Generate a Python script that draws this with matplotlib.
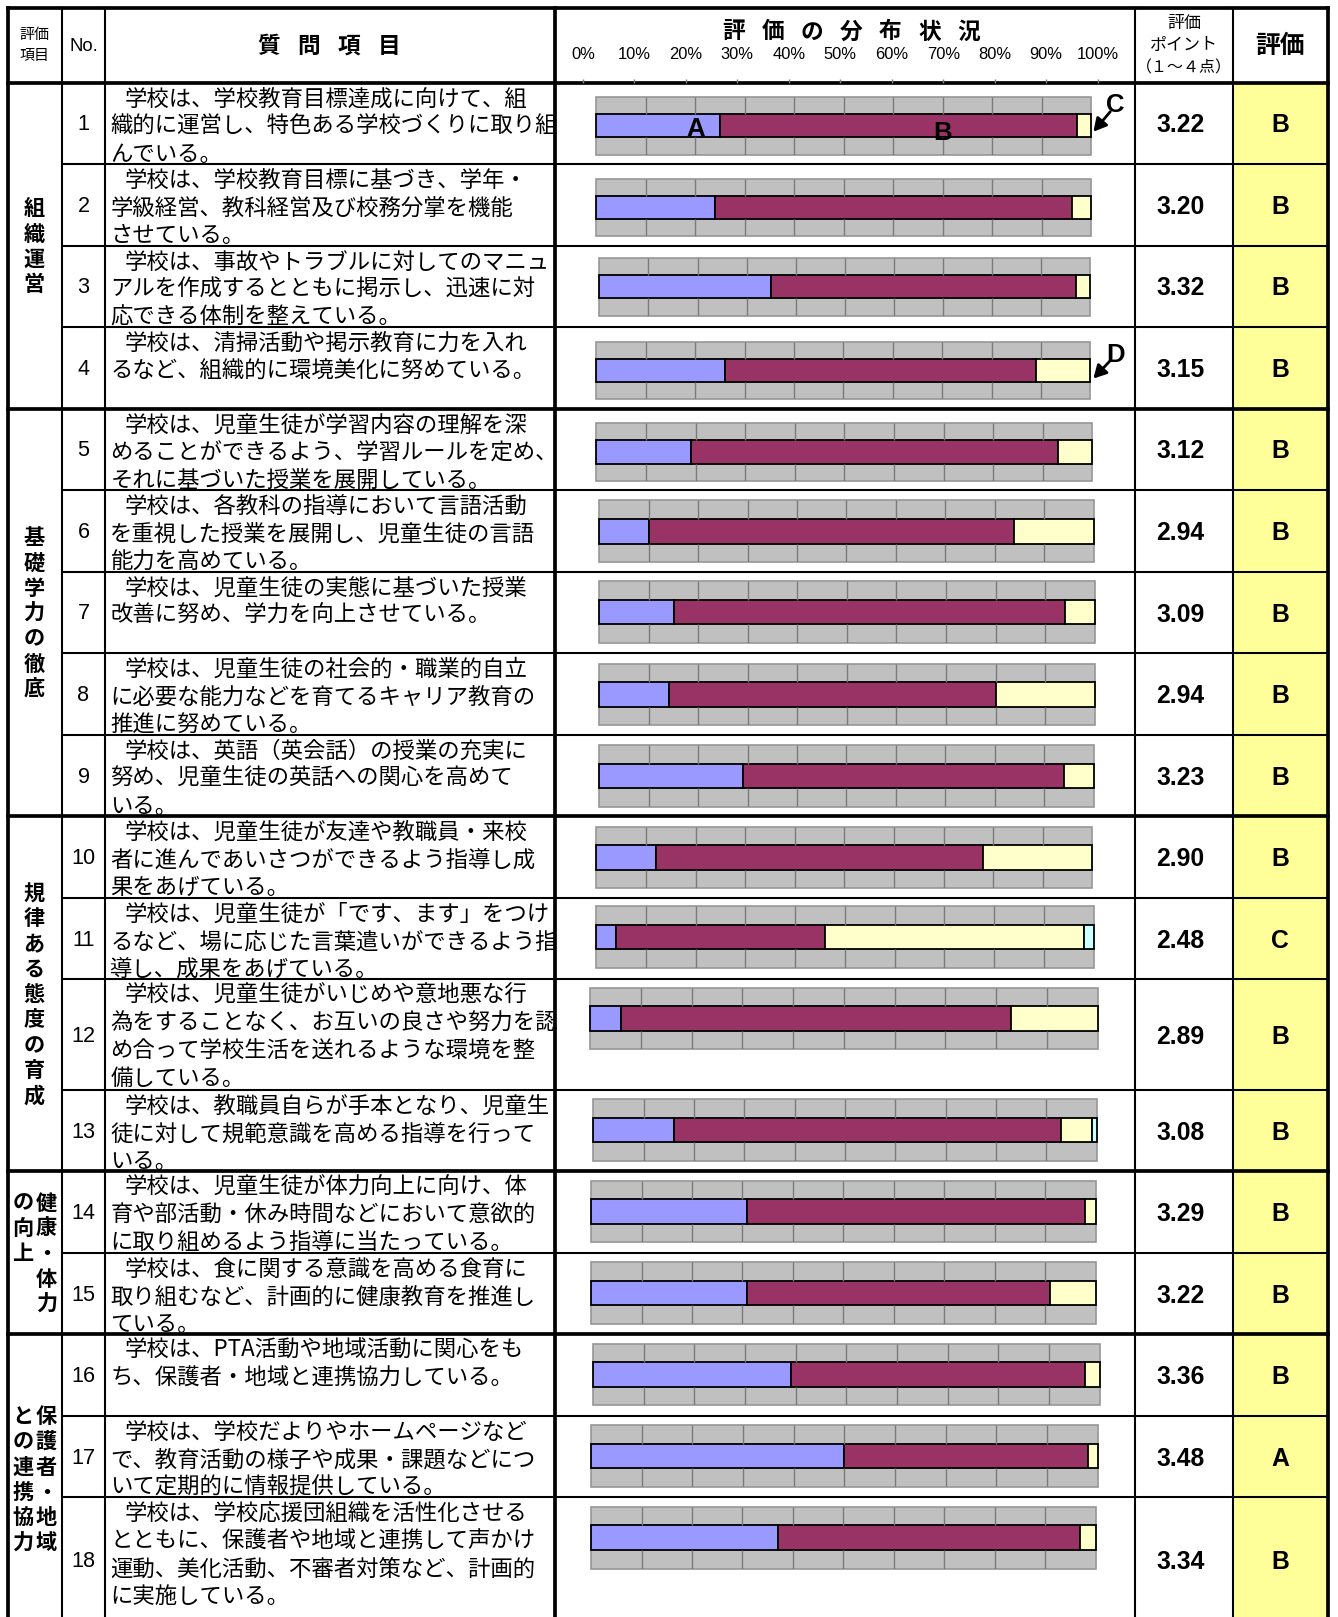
import numpy as np
import matplotlib
matplotlib.use("Agg")
import matplotlib.pyplot as plt
from matplotlib.patches import Rectangle

plt.rcParams["font.family"] = ["Noto Sans CJK JP", "DejaVu Sans"]

# ── data ─────────────────────────────────────────────────────────────────────
categories = [["組織運営"], ["基礎学力の徹底"], ["規律ある態度の育成"],
              ["健康・体力", "の向上"], ["保護者・地域", "との連携協力"]]
group_sizes = [4, 5, 4, 2, 3]

questions = [
    ["学校は、学校教育目標達成に向けて、組", "織的に運営し、特色ある学校づくりに取り組", "んでいる。"],
    ["学校は、学校教育目標に基づき、学年・", "学級経営、教科経営及び校務分掌を機能", "させている。"],
    ["学校は、事故やトラブルに対してのマニュ", "アルを作成するとともに掲示し、迅速に対", "応できる体制を整えている。"],
    ["学校は、清掃活動や掲示教育に力を入れ", "るなど、組織的に環境美化に努めている。"],
    ["学校は、児童生徒が学習内容の理解を深", "めることができるよう、学習ルールを定め、", "それに基づいた授業を展開している。"],
    ["学校は、各教科の指導において言語活動", "を重視した授業を展開し、児童生徒の言語", "能力を高めている。"],
    ["学校は、児童生徒の実態に基づいた授業", "改善に努め、学力を向上させている。"],
    ["学校は、児童生徒の社会的・職業的自立", "に必要な能力などを育てるキャリア教育の", "推進に努めている。"],
    ["学校は、英語（英会話）の授業の充実に", "努め、児童生徒の英話への関心を高めて", "いる。"],
    ["学校は、児童生徒が友達や教職員・来校", "者に進んであいさつができるよう指導し成", "果をあげている。"],
    ["学校は、児童生徒が「です、ます」をつけ", "るなど、場に応じた言葉遣いができるよう指", "導し、成果をあげている。"],
    ["学校は、児童生徒がいじめや意地悪な行", "為をすることなく、お互いの良さや努力を認", "め合って学校生活を送れるような環境を整", "備している。"],
    ["学校は、教職員自らが手本となり、児童生", "徒に対して規範意識を高める指導を行って", "いる。"],
    ["学校は、児童生徒が体力向上に向け、体", "育や部活動・休み時間などにおいて意欲的", "に取り組めるよう指導に当たっている。"],
    ["学校は、食に関する意識を高める食育に", "取り組むなど、計画的に健康教育を推進し", "ている。"],
    ["学校は、PTA活動や地域活動に関心をも", "ち、保護者・地域と連携協力している。"],
    ["学校は、学校だよりやホームページなど", "で、教育活動の様子や成果・課題などにつ", "いて定期的に情報提供している。"],
    ["学校は、学校応援団組織を活性化させる", "とともに、保護者や地域と連携して声かけ", "運動、美化活動、不審者対策など、計画的", "に実施している。"],
]

pct_a = [25, 24, 35, 26, 19, 10, 15, 14, 29, 12, 4, 6, 16, 31, 31, 39, 50, 37]
pct_b = [72, 72, 62, 63, 74, 74, 79, 66, 65, 66, 42, 77, 77, 67, 60, 58, 48, 60]
pct_c = [3, 4, 3, 11, 7, 16, 6, 20, 6, 22, 52, 17, 6, 2, 9, 3, 2, 3]
pct_d = [0, 0, 0, 0, 0, 0, 0, 0, 0, 0, 2, 0, 1, 0, 0, 0, 0, 0]
scores = [3.22, 3.20, 3.32, 3.15, 3.12, 2.94, 3.09, 2.94, 3.23,
          2.90, 2.48, 2.89, 3.08, 3.29, 3.22, 3.36, 3.48, 3.34]
grades = ["B", "B", "B", "B", "B", "B", "B", "B", "B",
          "B", "C", "B", "B", "B", "B", "B", "A", "B"]
pct_ticks = list(range(0, 101, 10))

SEG_COLORS = ["#9999ff", "#993366", "#ffffcc", "#ccffff"]

# ── layout (reference grid units) ────────────────────────────────────────────
W, H = 1297, 1567
K = 1338 / W


def fs(px):
    return px * K * 0.72


def fig_box(x0, y0, x1, y1):
    return [x0 / W, 1 - y1 / H, (x1 - x0) / W, (y1 - y0) / H]


X_L, X_CAT, X_NO, X_Q, X_BAR, X_PT, X_R = 8, 60, 102, 538, 1100, 1195, 1287
HEAD_T, HEAD_B = 8, 80
row_h = [79] * 18
row_h[11] = 107
row_h[17] = 122
row_top = HEAD_B + np.concatenate([[0], np.cumsum(row_h)[:-1]])
row_mid = row_top + np.array(row_h) / 2

bar_l = [578, 578, 581, 578, 578, 581, 581, 581, 581, 578, 578, 572, 575, 573, 573, 575, 573, 573]
bar_r = [1058, 1058, 1057, 1057, 1059, 1060, 1061, 1061, 1060, 1059, 1060, 1064, 1063, 1062, 1062, 1066, 1064, 1062]
bar_off = [14, 14, 12, 14, 14, 10, 9, 10, 10, 10, 8, 8, 9, 9, 9, 9, 9, 9]
bar_h = [56] * 5 + [60] * 13

fig = plt.figure(figsize=(13.38, 16.17), dpi=100)
ax = fig.add_axes([0, 0, 1, 1])
ax.set_xlim(0, W)
ax.set_ylim(H, 0)
ax.axis("off")

# yellow grade column
ax.add_patch(Rectangle((X_PT, HEAD_B), X_R - X_PT, H - HEAD_B, fc="#ffff99", ec="none", zorder=0))

# ── grid lines ───────────────────────────────────────────────────────────────
THIN, THICK = fs(2.0), fs(3.6)
kw = dict(color="black", solid_capstyle="projecting", zorder=5)
ax.plot([X_L, X_R], [HEAD_T, HEAD_T], lw=THICK, **kw)
ax.plot([X_L, X_R], [HEAD_B, HEAD_B], lw=THICK, **kw)
ends = np.cumsum(group_sizes)
for i in range(1, 18):
    y = row_top[i]
    if i in ends:
        ax.plot([X_L, X_R], [y, y], lw=THICK, **kw)
    else:
        ax.plot([X_CAT, X_R], [y, y], lw=THIN, **kw)
for x, lw in ((X_L, THICK), (X_CAT, THIN), (X_NO, THIN), (X_Q, THICK),
              (X_BAR, THIN), (X_PT, THIN), (X_R, THICK)):
    ax.plot([x, x], [HEAD_T, H + 5], lw=lw, **kw)

# ── header ───────────────────────────────────────────────────────────────────
ax.text(33, 34, "評価", ha="center", va="center", fontsize=fs(14.5))
ax.text(33, 54, "項目", ha="center", va="center", fontsize=fs(14.5))
ax.text(81, 45, "No.", ha="center", va="center", fontsize=fs(18),
        family=["Liberation Sans Narrow", "Liberation Sans"])
for k, ch in enumerate("質問項目"):
    ax.text(260 + 39 * k, 45, ch, ha="center", va="center", fontsize=fs(22), fontweight="bold")

# percentage scale of the distribution column
hx = fig.add_axes(fig_box(565, 40, 1064, 80))
hx.set_xlim(0, 100)
hx.set_ylim(0, 1)
hx.axis("off")
for p in pct_ticks:
    hx.text(p, 0.68, f"{p}%", ha="center", va="center", fontsize=fs(16),
            family=["Liberation Sans Narrow", "Liberation Sans"])
hx.vlines(pct_ticks, 0, 0.08, color="#808080", lw=1, clip_on=False)
ax.add_patch(Rectangle((694, 14), 262, 32, fc="white", ec="none", zorder=3))
for k, ch in enumerate("評価の分布状況"):
    ax.text(711 + 38 * k, 31, ch, ha="center", va="center", fontsize=fs(22),
            fontweight="bold", zorder=4)

ax.text(1148, 22, "評価", ha="center", va="center", fontsize=fs(16.5))
ax.text(1148, 44, "ポイント", ha="center", va="center", fontsize=fs(16.5))
ax.text(1148, 66, "（１～４点）", ha="center", va="center", fontsize=fs(15.5))
ax.text(1241, 45, "評価", ha="center", va="center", fontsize=fs(24), fontweight="bold")

# ── category column (vertical text) ──────────────────────────────────────────
g_start = np.concatenate([[0], ends[:-1]])
for cols, s, e in zip(categories, g_start, ends):
    g_top = row_top[s]
    g_bot = row_top[e] if e < 18 else row_top[17] + row_h[17]
    n = len(cols[0])
    y0 = (g_top + g_bot) / 2 - (n - 1) * 24.5 / 2 + 1
    xs = [33] if len(cols) == 1 else [45, 22]
    for x, col in zip(xs, cols):
        for j, ch in enumerate(col):
            ax.text(x, y0 + 24.5 * j, ch, ha="center", va="center",
                    fontsize=fs(20.5), fontweight="bold")

# ── rows ─────────────────────────────────────────────────────────────────────
clip = Rectangle((X_NO, 0), X_Q - X_NO - 1, H, transform=ax.transData)
arrow = dict(arrowstyle="-|>,head_length=0.55,head_width=0.3", color="black", lw=2,
             shrinkA=6, shrinkB=0, patchA=None, mutation_scale=14)
for i in range(18):
    ax.text(81, row_mid[i] + 1.5, str(i + 1), ha="center", va="center", fontsize=fs(21),
            family=["Liberation Sans Narrow", "Liberation Sans"])
    for j, line in enumerate(questions[i]):
        x = X_NO + (19 if j == 0 else 5)
        t = ax.text(x, row_top[i] + 16 + 26.7 * j, line, ha="left", va="center",
                    fontsize=fs(21.7))
        t.set_clip_path(clip)
    ax.text(1144, row_mid[i] + 2, f"{scores[i]:.2f}", ha="center", va="center",
            fontsize=fs(24), fontweight="bold", family="Liberation Sans")
    ax.text(1241, row_mid[i] + 2, grades[i], ha="center", va="center",
            fontsize=fs(24), fontweight="bold", family="Liberation Sans")

    top = row_top[i] + bar_off[i]
    bx = fig.add_axes(fig_box(bar_l[i], top, bar_r[i], top + bar_h[i]))
    bx.set_xlim(0, 100)
    bx.set_ylim(0, 10)
    bx.axis("off")
    for y0, y1 in ((0, 3), (7, 10)):
        bx.axhspan(y0, y1, fc="#c0c0c0", ec="#969696", lw=1.2, clip_on=False)
        bx.vlines(pct_ticks[1:-1], y0, y1, color="#7a7a7a", lw=1.0)
    left = 0
    for vals, col in zip((pct_a, pct_b, pct_c, pct_d), SEG_COLORS):
        v = vals[i]
        if v > 0:
            bx.barh(5, v, left=left, height=4, color=col, edgecolor="black",
                    lw=1.3, clip_on=False)
        left += v

    if i == 0:
        bx.text(20, 4.5, "A", ha="center", va="center", fontsize=fs(25),
                fontweight="bold", family="Liberation Sans")
        bx.text(70, 3.8, "B", ha="center", va="center", fontsize=fs(25),
                fontweight="bold", family="Liberation Sans")
        bx.annotate("C", xy=(100.4, 4.0), xytext=(16, 19), textcoords="offset points",
                    ha="center", va="center", fontsize=fs(25), fontweight="bold",
                    family="Liberation Sans", annotation_clip=False, arrowprops=arrow)
    if i == 3:
        bx.annotate("D", xy=(100.6, 3.6), xytext=(16, 17), textcoords="offset points",
                    ha="center", va="center", fontsize=fs(25), fontweight="bold",
                    family="Liberation Sans", annotation_clip=False, arrowprops=arrow)

fig.savefig("out.png", dpi=100)
